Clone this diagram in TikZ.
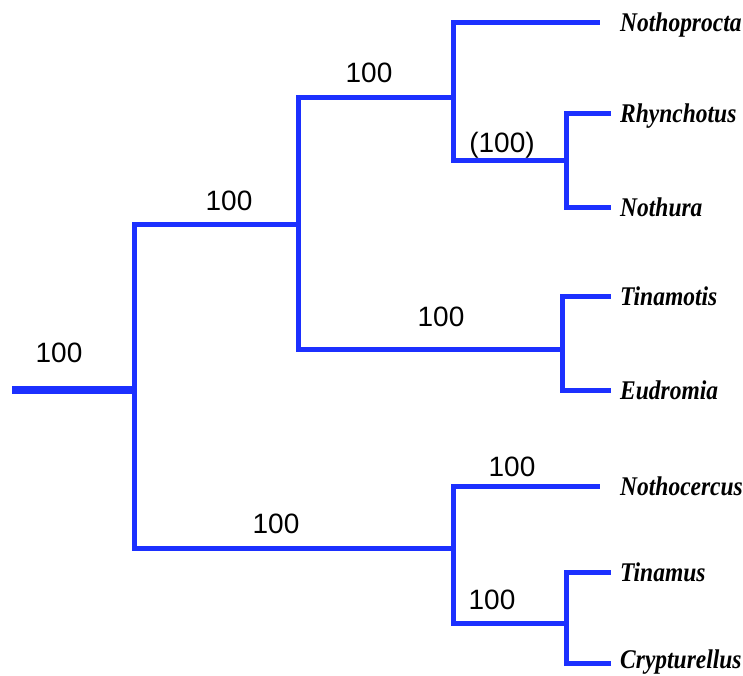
\documentclass[tikz,border=0pt]{standalone}
\usepackage{fontspec}
\usepackage{graphicx}
\setmainfont{Liberation Sans}
\newfontfamily\leaffont{Liberation Serif}
\definecolor{treeblue}{RGB}{28,48,255}
\tikzset{
  branch/.style={draw=treeblue, line width=5pt, line join=miter, line cap=rect},
  rootbranch/.style={draw=treeblue, line width=7.5pt},
  support/.style={anchor=base, inner sep=0pt, font=\fontsize{28}{30}\selectfont},
  taxon/.style={anchor=base west, inner sep=0pt, font=\leaffont\bfseries\itshape\fontsize{27}{29}\selectfont}
}
\newcommand{\taxname}[1]{\scalebox{0.87}[1]{#1}}
\begin{document}
\begin{tikzpicture}[x=1pt,y=-1pt]
\useasboundingbox (0,0) rectangle (743,675);
% junctions
\coordinate (root0) at (12,390);
\coordinate (R) at (134,390);
\coordinate (A) at (298,224);
\coordinate (B) at (453,97);
\coordinate (C) at (566,160);
\coordinate (D) at (562,349);
\coordinate (E) at (453,548);
\coordinate (F) at (566,623);
% leaf ends
\coordinate (eNothoprocta) at (597,22);
\coordinate (eRhynchotus) at (608,113);
\coordinate (eNothura) at (608,207);
\coordinate (eTinamotis) at (608,296);
\coordinate (eEudromia) at (608,390);
\coordinate (eNothocercus) at (597,486);
\coordinate (eTinamus) at (608,572);
\coordinate (eCrypturellus) at (608,663);
% branches
\draw[rootbranch] (root0) -- (R);
\draw[branch] (A) -| (R) |- (E);
\draw[branch] (B) -| (A) |- (D);
\draw[branch] (eNothoprocta) -| (B) |- (C);
\draw[branch] (eRhynchotus) -| (C) |- (eNothura);
\draw[branch] (eTinamotis) -| (D) |- (eEudromia);
\draw[branch] (eNothocercus) -| (E) |- (F);
\draw[branch] (eTinamus) -| (F) |- (eCrypturellus);
% taxa
\node[taxon] (tNothoprocta) at (620,31) {\taxname{Nothoprocta}};
\node[taxon] (tRhynchotus) at (620,122) {\taxname{Rhynchotus}};
\node[taxon] (tNothura) at (620,216) {\taxname{Nothura}};
\node[taxon] (tTinamotis) at (620,305) {\taxname{Tinamotis}};
\node[taxon] (tEudromia) at (620,399) {\taxname{Eudromia}};
\node[taxon] (tNothocercus) at (620,495) {\taxname{Nothocercus}};
\node[taxon] (tTinamus) at (620,581) {\taxname{Tinamus}};
\node[taxon] (tCrypturellus) at (620,668) {\taxname{Crypturellus}};
% support values
\node[support] (sRoot) at (59,362) {100};
\node[support] (sA) at (229,210) {100};
\node[support] (sB) at (369,82) {100};
\node[support] (sC) at (502,152) {(100)};
\node[support] (sD) at (441,326) {100};
\node[support] (sE) at (276,533) {100};
\node[support] (sNc) at (512,476) {100};
\node[support] (sF) at (492,609) {100};
\end{tikzpicture}
\end{document}
